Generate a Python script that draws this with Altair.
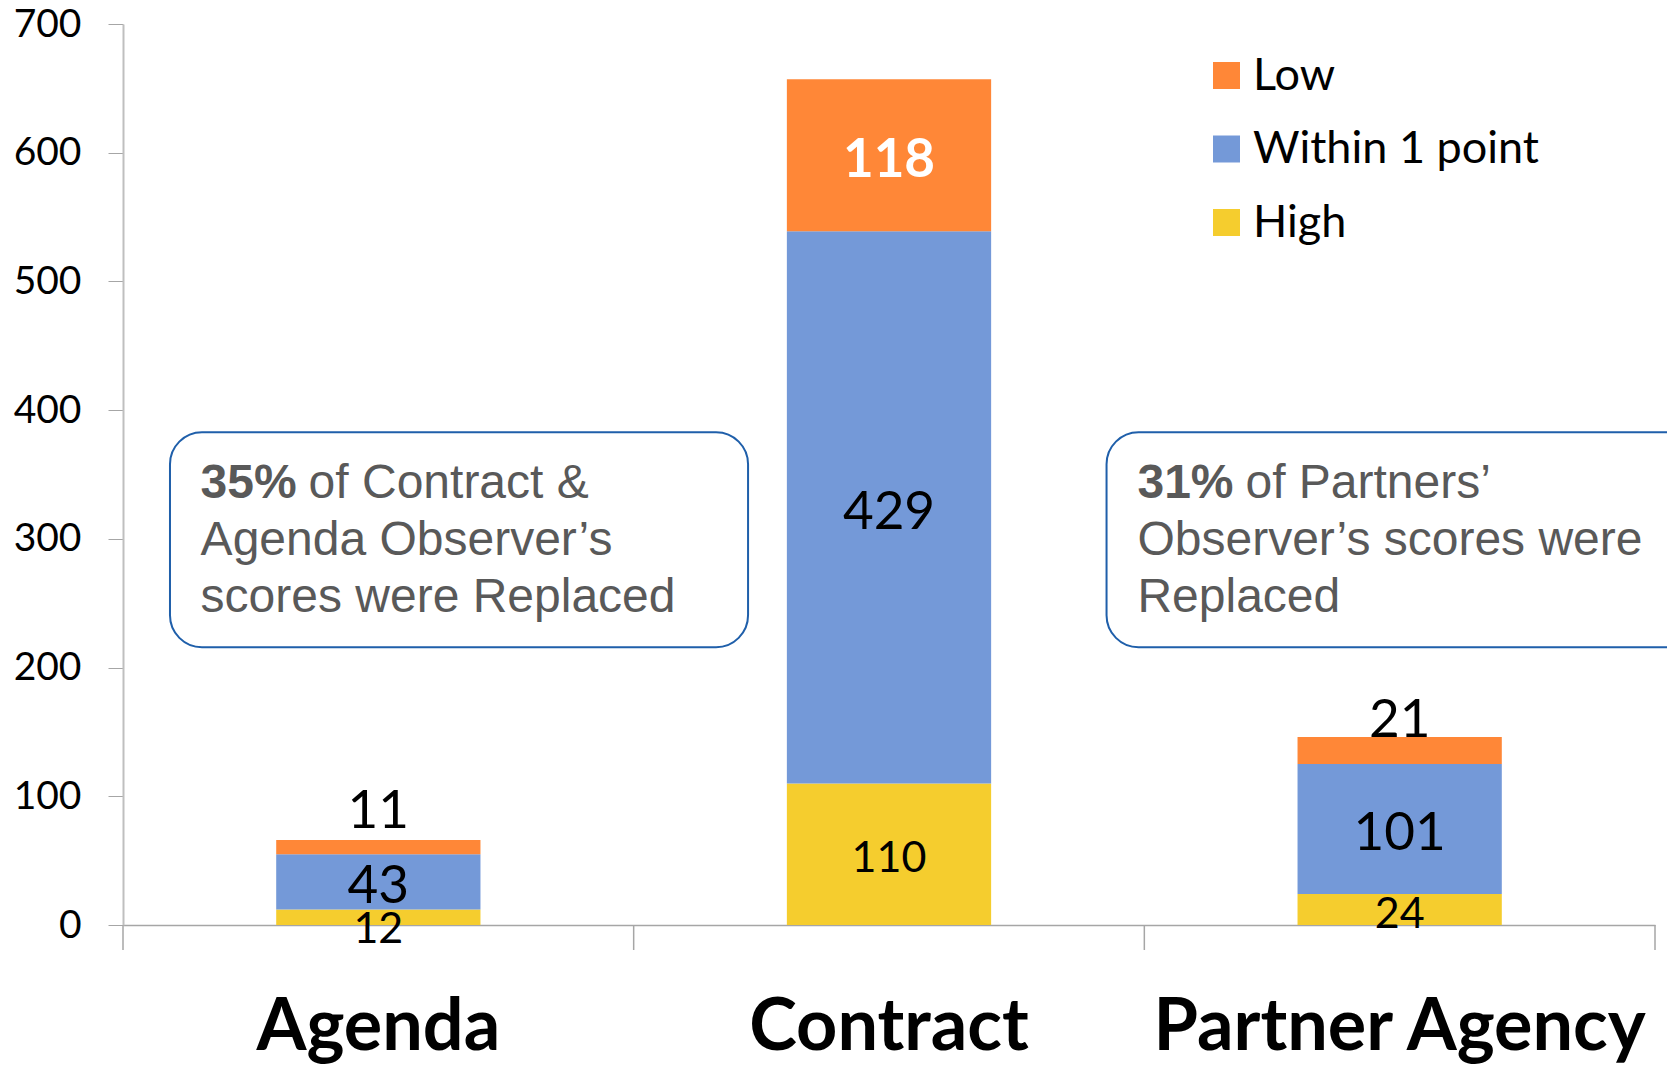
import altair as alt
import pandas as pd

# ---------------- data ----------------
categories = ["Agenda", "Contract", "Partner Agency"]
series_names = ["High", "Within 1 point", "Low"]          # stacking order, bottom -> top
high_values = [12, 110, 24]
within_values = [43, 429, 101]
low_values = [11, 118, 21]

legend_order = ["Low", "Within 1 point", "High"]
legend_colors = ["#FF8737", "#7499D8", "#F5CD2E"]

y_ticks = [0, 100, 200, 300, 400, 500, 600, 700]

# label styling per segment (category-major, series High / Within / Low)
label_font_size = [43, 53, 53, 43, 53, 53, 43, 53, 53]
label_nudge_px = [26, 21, -19, 18, 22, 22, 18, 21, -14]
label_bold = [False, False, False, False, False, True, False, False, False]

# annotation boxes (x in category units, y in value units)
box_x0 = [0.092, 1.926]
box_x1 = [1.224, 3.10]
box_y0 = [215.8, 215.8]
box_y1 = [382.8, 382.8]
box_bold = ["35%", "31%"]
box_lines = [
    ["of Contract &", "Agenda Observer\u2019s", "scores were Replaced"],
    ["of Partners\u2019", "Observer\u2019s scores were", "Replaced"],
]
box_text_x = [0.152, 1.9865]
box_line_y = [332, 287.5, 243]
bold_gap_px = 108

BOX_FONT = "Arial, 'Liberation Sans', Helvetica, sans-serif"

# ---------------- layout ----------------
W, H = 1532, 901
YMAX = 700
PX_PER_CAT = W / 3.0

rows = []
vals = [high_values, within_values, low_values]
for i, c in enumerate(categories):
    for j, s in enumerate(series_names):
        k = i * 3 + j
        rows.append(dict(category=c, series=s, value=vals[j][i], order=j,
                         fs=label_font_size[k], nudge=label_nudge_px[k],
                         bold=label_bold[k]))
df = pd.DataFrame(rows)

bounds = pd.DataFrame({"b": [0, 1, 2, 3]})
boxes = pd.DataFrame({"x0": box_x0, "x1": box_x1, "y0": box_y0, "y1": box_y1})

trows = []
for b in range(2):
    trows.append(dict(x=box_text_x[b], y=box_line_y[0], t=box_bold[b], dx=0, w="bold"))
    for li, line in enumerate(box_lines[b]):
        trows.append(dict(x=box_text_x[b], y=box_line_y[li], t=line,
                          dx=bold_gap_px if li == 0 else 0, w="normal"))
tdf = pd.DataFrame(trows)

cat_scale = alt.Scale(domain=categories, paddingInner=0.6, paddingOuter=0.3)
y_scale = alt.Scale(domain=[0, YMAX], nice=False, zero=True)
q_scale = alt.Scale(domain=[0, 3], nice=False, zero=False)

bars = alt.Chart(df).mark_bar().encode(
    x=alt.X("category:N", sort=categories, scale=cat_scale, title=None,
            axis=alt.Axis(labelAngle=0)),
    y=alt.Y("value:Q", stack="zero", scale=y_scale, title=None,
            axis=alt.Axis(values=y_ticks)),
    color=alt.Color("series:N", scale=alt.Scale(domain=legend_order, range=legend_colors),
                    legend=alt.Legend(orient="none", legendX=1081, legendY=29, title=None,
                                      symbolType="square", symbolSize=729,
                                      symbolStrokeWidth=0, symbolOpacity=1,
                                      labelFont="Lato", labelFontSize=45,
                                      labelColor="black", labelOffset=4,
                                      rowPadding=27.5, labelLimit=1000)),
    order=alt.Order("order:Q", sort="ascending"),
)

label_base = alt.Chart(df).transform_stack(
    stack="value", groupby=["category"], as_=["v0", "v1"],
    sort=[alt.SortField("order", order="ascending")],
).transform_calculate(
    ly=f"(datum.v0 + datum.v1) / 2 - datum.nudge * {YMAX / H}"
)

labels_dark = label_base.transform_filter("!datum.bold").mark_text(
    baseline="alphabetic", font="Lato", color="black"
).encode(
    x=alt.X("category:N", sort=categories, scale=cat_scale, axis=None),
    y=alt.Y("ly:Q", scale=y_scale, title=None),
    text=alt.Text("value:Q"),
    size=alt.Size("fs:Q", scale=None),
)

labels_light = label_base.transform_filter("datum.bold").mark_text(
    baseline="alphabetic", font="Lato", fontWeight="bold", color="white"
).encode(
    x=alt.X("category:N", sort=categories, scale=cat_scale, axis=None),
    y=alt.Y("ly:Q", scale=y_scale, title=None),
    text=alt.Text("value:Q"),
    size=alt.Size("fs:Q", scale=None),
)

bound_rules = alt.Chart(bounds).mark_rule(color="#A6A6A6", strokeWidth=1.5).encode(
    x=alt.X("b:Q", scale=q_scale, axis=None),
    y=alt.value(H),
    y2=alt.value(H + 25),
)

box_rects = alt.Chart(boxes).mark_rect(
    cornerRadius=32, fill="white", stroke="#1F5FAA", strokeWidth=2
).encode(
    x=alt.X("x0:Q", scale=q_scale, axis=None),
    x2="x1:Q",
    y=alt.Y("y0:Q", scale=y_scale, title=None),
    y2="y1:Q",
)

box_text_base = alt.Chart(tdf).transform_calculate(
    tx=f"datum.x + datum.dx / {PX_PER_CAT}"
)
box_text_bold = box_text_base.transform_filter("datum.w == 'bold'").mark_text(
    align="left", baseline="alphabetic", font=BOX_FONT, fontSize=48,
    fontWeight="bold", color="#595959"
).encode(
    x=alt.X("tx:Q", scale=q_scale, axis=None),
    y=alt.Y("y:Q", scale=y_scale, title=None),
    text="t:N",
)
box_text_reg = box_text_base.transform_filter("datum.w == 'normal'").mark_text(
    align="left", baseline="alphabetic", font=BOX_FONT, fontSize=48,
    color="#595959"
).encode(
    x=alt.X("tx:Q", scale=q_scale, axis=None),
    y=alt.Y("y:Q", scale=y_scale, title=None),
    text="t:N",
)

chart = alt.layer(
    box_rects, bars, labels_dark, labels_light, bound_rules, box_text_bold, box_text_reg
).resolve_scale(x="independent").properties(
    width=W, height=H,
    autosize=alt.AutoSizeParams(type="none"),
    padding={"left": 115, "top": 16, "right": 12, "bottom": 142},
).configure_view(strokeWidth=0).configure_axisY(
    labelFont="Lato", labelFontSize=39, labelColor="black", tickSize=15,
    tickColor="#A6A6A6", domainColor="#BFBFBF", domainWidth=2, grid=False,
    labelPadding=27,
).configure_axisX(
    labelFont="Lato", labelFontWeight="bold", labelFontSize=72, labelColor="black",
    ticks=False, labelPadding=124, labelBaseline="alphabetic",
    domainColor="#A6A6A6", domainWidth=1.5, labelLimit=1000, grid=False,
)

chart.save("out.html", embed_options={"renderer": "svg", "actions": False})
